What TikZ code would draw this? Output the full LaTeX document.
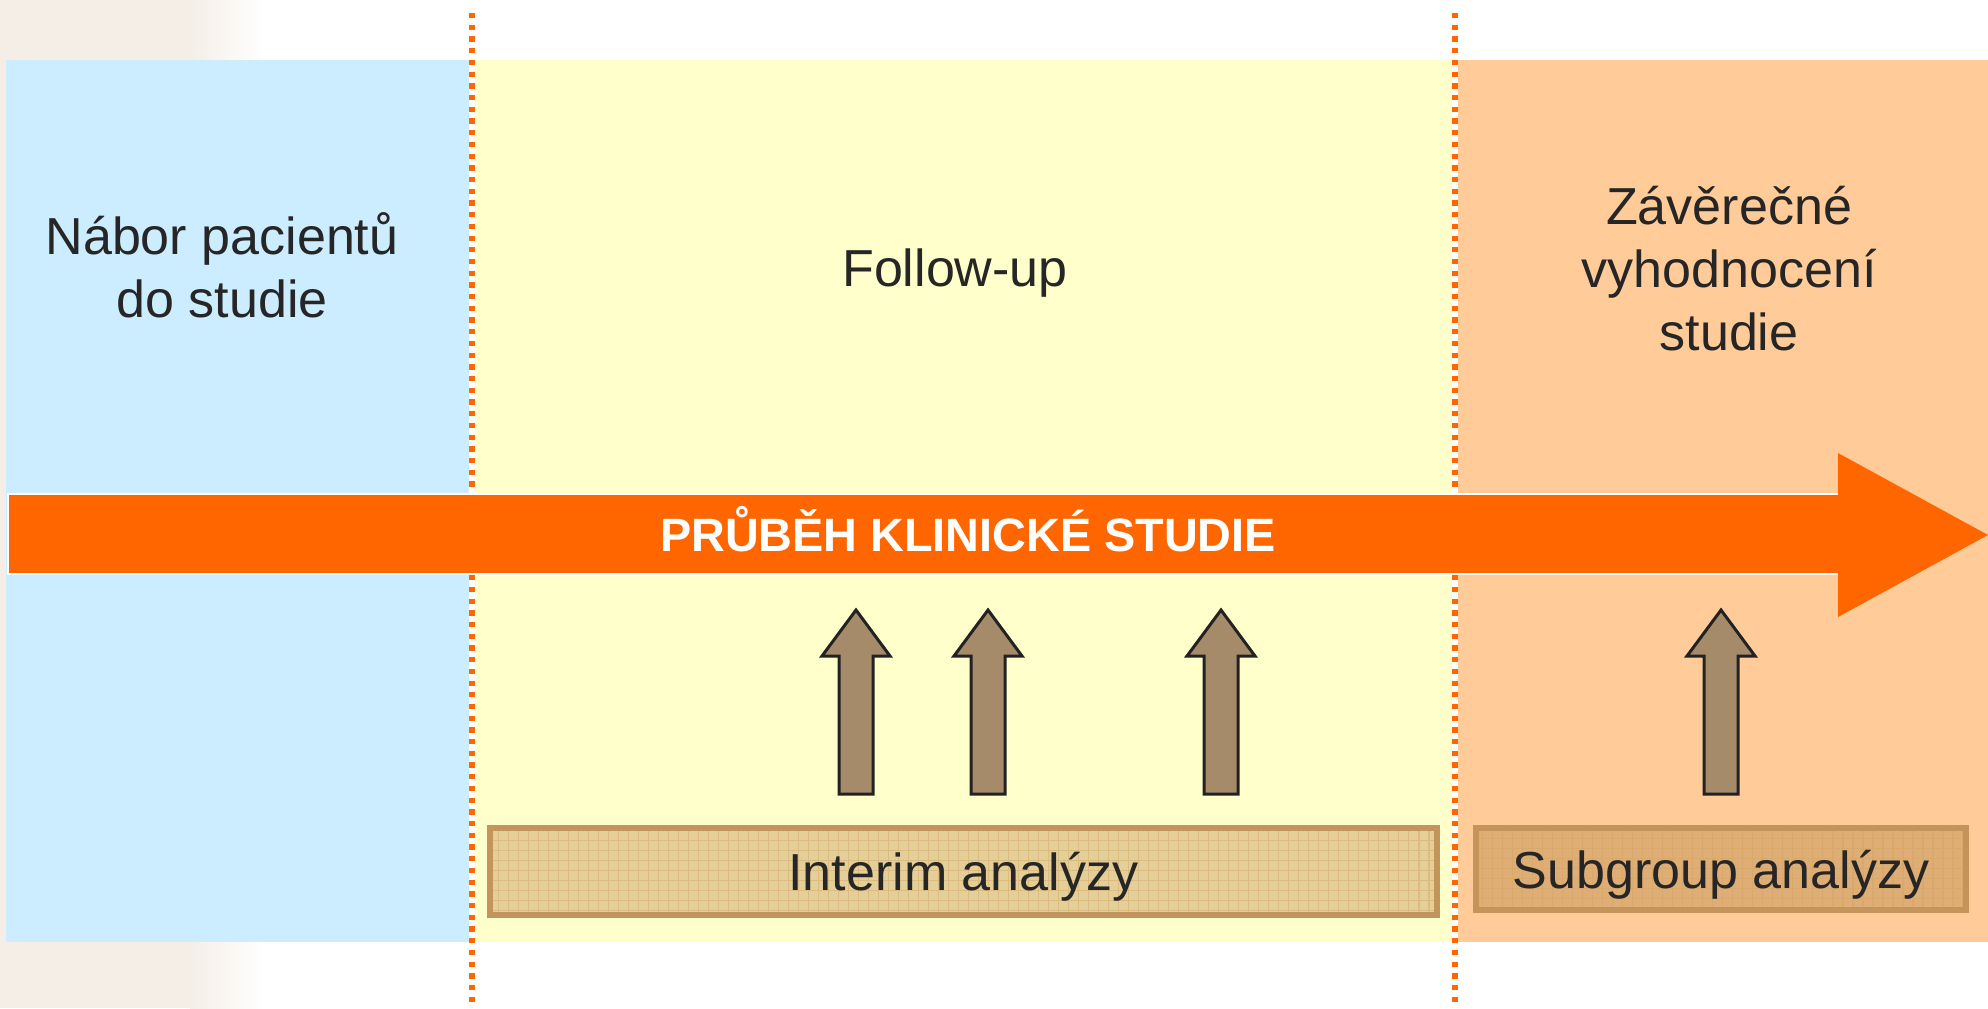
\documentclass[tikz,border=0pt]{standalone}
\usepackage{fontspec}
\setmainfont{Liberation Sans}
\definecolor{recruitblue}{HTML}{CCECFF}
\definecolor{followyellow}{HTML}{FFFFCC}
\definecolor{finalorange}{HTML}{FFCC99}
\definecolor{mainorange}{HTML}{FF6600}
\definecolor{arrowbrown}{HTML}{A58B6A}
\definecolor{boxborder}{HTML}{C4955A}
\definecolor{boxgrid}{HTML}{D2A460}
\definecolor{textgray}{HTML}{262626}
\definecolor{sidebeige}{HTML}{F4EEE7}
\begin{document}
\begin{tikzpicture}[x=0.01cm, y=-0.01cm,
    phase/.style={align=center, text=textgray, font=\fontsize{14.8pt}{17.9pt}\selectfont},
    anabox/.style={draw=boxborder, line width=1.7pt, minimum width=9.47cm, minimum height=0.87cm,
        text depth=0pt, text=textgray, font=\fontsize{14.8pt}{17.9pt}\selectfont,
        path picture={\draw[boxgrid, opacity=0.45, line width=0.35pt, step=1mm]
            (path picture bounding box.south west) grid (path picture bounding box.north east);}},
    uparrow/.style={fill=arrowbrown, draw=textgray!90!black, line width=0.85pt},
    phaseline/.style={mainorange, line width=1.5pt, dash pattern=on 1.5pt off 1.83pt}]
\useasboundingbox (0,0) rectangle (1988,1008);
% faint slide background on the left
\fill[sidebeige] (0,0) rectangle (190,1008);
\shade[left color=sidebeige, right color=white] (190,0) rectangle (265,1008);
% the three phases
\fill[recruitblue](6,60) rectangle (469,942);
\fill[followyellow](475,60) rectangle (1452,942);
\fill[finalorange](1458,60) rectangle (1988,942);
\draw[phaseline](472,13)--(472,1003);
\draw[phaseline](1455,13)--(1455,1003);

\node (recruit) at (222,265) [phase]{Nábor pacientů\\do studie};
\node (followup) at (955,273) [phase]{Follow-up};
\node (final) at (1729,269) [phase]{Závěrečné\\vyhodnocení\\studie};

% time line
\draw[fill=mainorange, draw=white, line width=0.6pt](8,494) rectangle (1840,574);
\fill[mainorange](1838,453)--(1988,535)--(1838,617)--cycle;
\node (title) at (968,529) [text=white, font=\fontsize{13.3pt}{16pt}\selectfont\bfseries]{PRŮBĚH KLINICKÉ STUDIE};

% analyses
\foreach \x in {856,988,1221,1721}
{
    \draw[uparrow](\x-17,794)--(\x+17,794)--(\x+17,656)--(\x+34,656)--(\x,610)
        --(\x-34,656)--(\x-17,656)--cycle;
}
\node (interim) at (963.5,871.5) [anabox, fill=boxborder!45!followyellow]{Interim analýzy};
\node (subgroup) at (1721,869) [anabox, fill=boxborder!55!finalorange, minimum width=4.90cm, minimum height=0.82cm]{Subgroup analýzy};

\end{tikzpicture}
\end{document}
